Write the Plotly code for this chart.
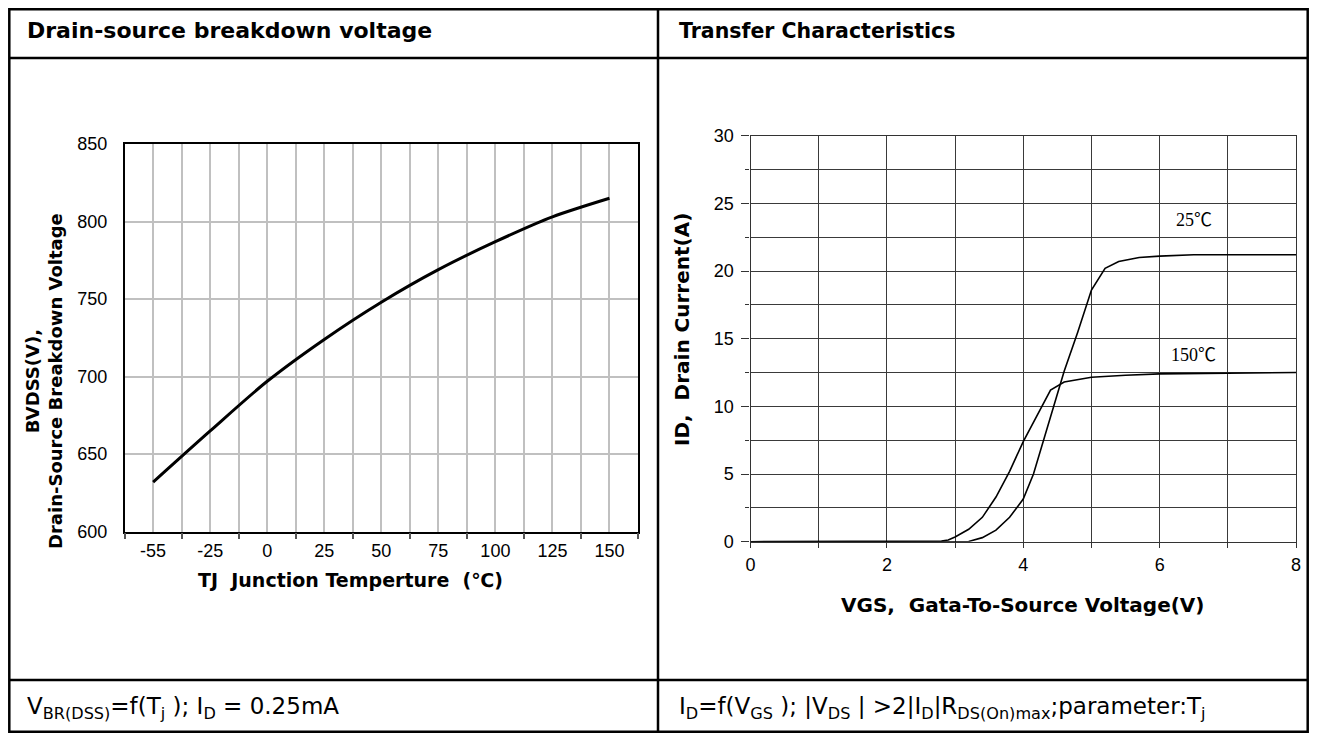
import plotly.graph_objects as go

# The page places the figure 8px in from the window's top-left corner (body margin),
# so the figure is sized to avoid scrollbars and coordinates are offset by 8px.
OFF = 8
W, H = 1317 - 2 * OFF, 741 - 2 * OFF

# ---------------- data ----------------
# Left chart: breakdown voltage vs junction temperature (equally spaced categories)
tj_labels = ["-55", "-25", "0", "25", "50", "75", "100", "125", "150"]
bvdss = [632, 665, 697, 724, 748, 769, 787, 803, 815]

# Right chart: transfer characteristics
vgs_25 = [0, 3.0, 3.2, 3.4, 3.6, 3.8, 4.0, 4.15, 4.3, 4.45, 4.6, 4.8, 5.0, 5.2, 5.4, 5.7, 6.0, 6.5, 7.0, 8.0]
id_25 = [0, 0, 0.02, 0.3, 0.85, 1.8, 3.15, 5.0, 7.5, 10.0, 12.6, 15.5, 18.6, 20.2, 20.7, 21.0, 21.1, 21.2, 21.2, 21.2]
vgs_150 = [0, 2.6, 2.8, 2.9, 3.0, 3.2, 3.4, 3.6, 3.8, 4.0, 4.2, 4.4, 4.6, 4.8, 5.0, 5.5, 6.0, 7.0, 8.0]
id_150 = [0, 0, 0.05, 0.12, 0.35, 0.92, 1.8, 3.3, 5.2, 7.4, 9.3, 11.2, 11.8, 12.0, 12.15, 12.3, 12.4, 12.45, 12.5]

x_ticks_r = [0, 2, 4, 6, 8]
y_ticks_r = [0, 5, 10, 15, 20, 25, 30]
y_ticks_l = [600, 650, 700, 750, 800, 850]

# ---------------- helpers (screen pixel -> paper fraction) ----------------
EDGE = 1.3

def px(x):
    v = min(max(x - OFF, EDGE), W - EDGE)
    return v / W

def py(y):
    v = min(max(y - OFF, EDGE), H - EDGE)
    return 1 - v / H

fig = go.Figure()

tj_idx = list(range(len(tj_labels)))
fig.add_trace(go.Scatter(x=tj_idx, y=bvdss, mode="lines", line=dict(color="black", width=3, shape="spline", smoothing=0.8),
                         xaxis="x", yaxis="y", showlegend=False, hoverinfo="skip"))
fig.add_trace(go.Scatter(x=vgs_25, y=id_25, mode="lines", line=dict(color="black", width=1.6),
                         xaxis="x2", yaxis="y2", showlegend=False, name="25℃"))
fig.add_trace(go.Scatter(x=vgs_150, y=id_150, mode="lines", line=dict(color="black", width=1.6),
                         xaxis="x2", yaxis="y2", showlegend=False, name="150℃"))

tick_font = dict(family="Liberation Sans, Arial, sans-serif", size=18, color="black")
title_font = dict(family="DejaVu Sans, sans-serif", size=19, color="black")

fig.update_layout(
    width=W, height=H,
    autosize=False,
    margin=dict(l=0, r=0, t=0, b=0, pad=0),
    paper_bgcolor="white", plot_bgcolor="white",
    xaxis=dict(domain=[px(124.6), px(638)], range=[-0.5, len(tj_labels) - 0.5], automargin=False,
               tickmode="array", tickvals=tj_idx, ticktext=tj_labels, ticks="",
               showgrid=True, gridcolor="#c0c0c0", gridwidth=2,
               minor=dict(tickmode="array", tickvals=[i - 0.5 for i in range(len(tj_labels) + 1)],
                          showgrid=True, gridcolor="#c0c0c0", gridwidth=2,
                          ticks="outside", ticklen=6, tickcolor="#555", tickwidth=1.5),
               showline=True, mirror=True, linecolor="black", linewidth=1.5,
               zeroline=False, tickfont=tick_font, ticklabelstandoff=2, anchor="y"),
    yaxis=dict(domain=[py(531.7), py(144)], range=[600, 850], automargin=False,
               tickmode="array", tickvals=y_ticks_l,
               ticks="", showgrid=True, gridcolor="#c0c0c0", gridwidth=2,
               showline=True, mirror=True, linecolor="black", linewidth=1.5,
               zeroline=False, tickfont=tick_font, ticklabelstandoff=12, anchor="x"),
    xaxis2=dict(domain=[px(750.5), px(1296)], range=[0, 8], automargin=False,
                tickmode="array", tickvals=x_ticks_r,
                ticks="outside", ticklen=5, tickcolor="#333", tickwidth=1.2,
                showgrid=True, gridcolor="#3a3a3a", gridwidth=1.2,
                minor=dict(dtick=1, showgrid=True, gridcolor="#3a3a3a", gridwidth=1.2,
                           ticks="outside", ticklen=5, tickcolor="#333", tickwidth=1.2),
                showline=True, mirror=True, linecolor="#333", linewidth=1.2,
                zeroline=False, tickfont=tick_font, ticklabelstandoff=2, anchor="y2"),
    yaxis2=dict(domain=[py(541.7), py(135.7)], range=[0, 30], automargin=False,
                tickmode="array", tickvals=y_ticks_r,
                ticks="outside", ticklen=8, tickcolor="#333", tickwidth=1.2,
                showgrid=True, gridcolor="#3a3a3a", gridwidth=1.2,
                minor=dict(dtick=2.5, showgrid=True, gridcolor="#3a3a3a", gridwidth=1.2,
                           ticks="outside", ticklen=4, tickcolor="#333", tickwidth=1.2),
                showline=True, mirror=True, linecolor="#333", linewidth=1.2,
                zeroline=False, tickfont=tick_font, ticklabelstandoff=4, anchor="x2"),
)

# ---------------- table frame ----------------
lw = 2.5
L, R, T, B = 5, 1311, 5, 736
MID, HDR, FTR = 658, 58, 680
shapes = [
    dict(type="rect", xref="paper", yref="paper", x0=px(L), x1=px(R), y0=py(B), y1=py(T),
         line=dict(color="black", width=lw)),
    dict(type="line", xref="paper", yref="paper", x0=px(L), x1=px(R), y0=py(HDR), y1=py(HDR),
         line=dict(color="black", width=lw)),
    dict(type="line", xref="paper", yref="paper", x0=px(L), x1=px(R), y0=py(FTR), y1=py(FTR),
         line=dict(color="black", width=lw)),
    dict(type="line", xref="paper", yref="paper", x0=px(MID), x1=px(MID), y0=py(B), y1=py(T),
         line=dict(color="black", width=lw)),
]
fig.update_layout(shapes=shapes)

NB = "\u00a0"
ann = []
ann.append(dict(text="<b>Drain-source breakdown voltage</b>", x=px(25), y=py(31), xref="paper", yref="paper",
                xanchor="left", yanchor="middle", showarrow=False,
                font=dict(family="DejaVu Sans, sans-serif", size=22, color="black")))
ann.append(dict(text="<b>Transfer Characteristics</b>", x=px(677), y=py(31), xref="paper", yref="paper",
                xanchor="left", yanchor="middle", showarrow=False,
                font=dict(family="DejaVu Sans, sans-serif", size=20.5, color="black")))

foot_font = dict(family="DejaVu Sans, sans-serif", size=23, color="black")
ann.append(dict(text="V<sub>BR(DSS)</sub>=f(T<sub>j</sub>" + NB + "); I<sub>D</sub>" + NB + "=" + NB + "0.25mA",
                x=px(25), y=py(708), xref="paper", yref="paper", xanchor="left", yanchor="middle",
                showarrow=False, font=foot_font))
ann.append(dict(text="I<sub>D</sub>=f(V<sub>GS</sub>" + NB + "); |V<sub>DS</sub>" + NB + "| >2|I<sub>D</sub>|R<sub>DS(On)max</sub>;parameter:T<sub>j</sub>",
                x=px(677), y=py(708), xref="paper", yref="paper", xanchor="left", yanchor="middle",
                showarrow=False, font=foot_font))

# axis titles
ann.append(dict(text="<b>BVDSS(V),<br>Drain-Source Breakdown Voltage</b>", x=px(44), y=py(381),
                xref="paper", yref="paper", xanchor="center", yanchor="middle", textangle=-90,
                showarrow=False, font=dict(family="DejaVu Sans, sans-serif", size=18, color="black")))
ann.append(dict(text="<b>TJ" + NB + NB + "Junction Temperture" + NB + NB + "(℃)</b>", x=px(350), y=py(580),
                xref="paper", yref="paper", xanchor="center", yanchor="middle",
                showarrow=False, font=title_font))
ann.append(dict(text="<b>ID," + NB + NB + "Drain Current(A)</b>", x=px(682), y=py(330),
                xref="paper", yref="paper", xanchor="center", yanchor="middle", textangle=-90,
                showarrow=False, font=dict(family="DejaVu Sans, sans-serif", size=20, color="black")))
ann.append(dict(text="<b>VGS," + NB + NB + "Gata-To-Source Voltage(V)</b>", x=px(1023), y=py(605),
                xref="paper", yref="paper", xanchor="center", yanchor="middle",
                showarrow=False, font=dict(family="DejaVu Sans, sans-serif", size=20, color="black")))

# curve labels
lab_font = dict(family="Liberation Serif, Noto Sans CJK SC, serif", size=18, color="black")
ann.append(dict(text="25℃", x=6.5, y=23.8, xref="x2", yref="y2", xanchor="center", yanchor="middle",
                showarrow=False, font=lab_font))
ann.append(dict(text="150℃", x=6.5, y=13.8, xref="x2", yref="y2", xanchor="center", yanchor="middle",
                showarrow=False, font=lab_font))

fig.update_layout(annotations=ann)

fig.write_html("out.html")
